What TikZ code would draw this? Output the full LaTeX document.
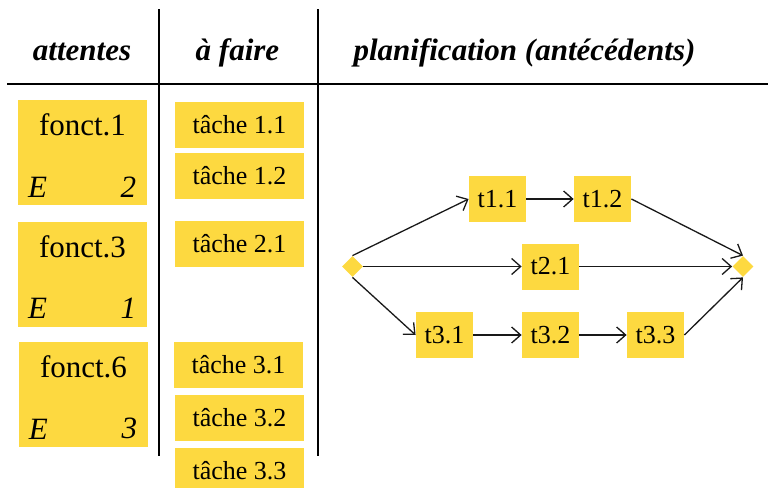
\documentclass[tikz,border=0pt]{standalone}
\usepackage{fontspec}
\setmainfont{Liberation Serif}
\usetikzlibrary{shapes.geometric, arrows.meta, positioning}
\usepackage{xcolor}
\definecolor{jaune}{RGB}{253,217,64}

\begin{document}
\begin{tikzpicture}[x=0.5pt,y=-0.5pt,
	titre/.style={anchor=base,font=\fontsize{15.5}{18}\selectfont\bfseries\itshape},
	fonctbox/.style={rectangle,fill=jaune,minimum width=64.5pt,minimum height=52.5pt},
	fonctnom/.style={inner sep=0pt,font=\fontsize{15.5}{18}\selectfont},
	coin/.style={inner sep=0pt,font=\fontsize{15.5}{18}\selectfont\itshape},
	tachebox/.style={rectangle,fill=jaune,minimum width=64.5pt,minimum height=23pt,inner sep=0pt,font=\fontsize{13}{15}\selectfont},
	tbox/.style={rectangle,fill=jaune,minimum width=28.5pt,minimum height=23pt,inner sep=0pt,font=\fontsize{13}{15}\selectfont},
	jalon/.style={diamond,fill=jaune,minimum size=10.5pt,inner sep=0pt},
	fleche/.style={-{Straight Barb[length=4.5pt,width=8pt]},black!90,line width=0.65pt}]
				\useasboundingbox (0,0) rectangle (768,488);
				% en-tetes et filets
				\node (hatt) [titre] at (82,60) {attentes};
				\node (hfai) [titre] at (237.5,60) {à faire};
				\node (hpla) [titre] at (524.5,60) {planification (antécédents)};
				\draw [line width=1pt] (7,84) -- (768,84);
				\draw [line width=1pt] (159,9) -- (159,456);
				\draw [line width=1pt] (318,9) -- (318,456);
				% attentes
				\node (f1) [fonctbox] at (82.5,152.5) {};
				\node (f3) [fonctbox] at (82.5,274) {};
				\node (f6) [fonctbox] at (83.5,394.5) {};
				\node (f1n) [fonctnom,below=7pt of f1.north] {fonct.1};
				\node (f3n) [fonctnom,below=7pt of f3.north] {fonct.3};
				\node (f6n) [fonctnom,below=7pt of f6.north] {fonct.6};
				\node (f1e) [coin,above right=4pt and 5pt of f1.south west] {E};
				\node (f3e) [coin,above right=4pt and 5pt of f3.south west] {E};
				\node (f6e) [coin,above right=4pt and 5pt of f6.south west] {E};
				\node (f1p) [coin,above left=4pt and 5.5pt of f1.south east] {2};
				\node (f3p) [coin,above left=4pt and 5.5pt of f3.south east] {1};
				\node (f6p) [coin,above left=4pt and 5.5pt of f6.south east] {3};
				% a faire
				\node (ta11) [tachebox] at (239.5,124.5) {tâche 1.1};
				\node (ta12) [tachebox,below of=ta11,node distance=25.75pt] {tâche 1.2};
				\node (ta21) [tachebox] at (239.5,243.5) {tâche 2.1};
				\node (ta31) [tachebox] at (238.5,364.5) {tâche 3.1};
				\node (ta32) [tachebox,below of=ta31,node distance=26.75pt,xshift=0.5pt] {tâche 3.2};
				\node (ta33) [tachebox,below of=ta32,node distance=26.5pt] {tâche 3.3};
				% planification
				\node (debut) [jalon] at (352.5,266.5) {};
				\node (fin) [jalon] at (743,266.5) {};
				\node (t11) [tbox] at (497.5,199) {t1.1};
				\node (t12) [tbox,right of=t11,node distance=52.5pt] {t1.2};
				\node (t21) [tbox] at (550.5,266.5) {t2.1};
				\node (t31) [tbox] at (444.5,335) {t3.1};
				\node (t32) [tbox,right of=t31,node distance=53pt] {t3.2};
				\node (t33) [tbox,right of=t32,node distance=52.5pt] {t3.3};
				\draw [fleche] (debut.north) -- (t11.west);
				\draw [fleche] (debut.east) -- (t21.west);
				\draw [fleche] (debut.south) -- (t31.west);
				\draw [fleche] (t11) -- (t12);
				\draw [fleche] (t31) -- (t32);
				\draw [fleche] (t32) -- (t33);
				\draw [fleche] (t12.east) -- (fin.north);
				\draw [fleche] (t21.east) -- (fin.west);
				\draw [fleche] (t33.east) -- (fin.south);
\end{tikzpicture}
\end{document}
